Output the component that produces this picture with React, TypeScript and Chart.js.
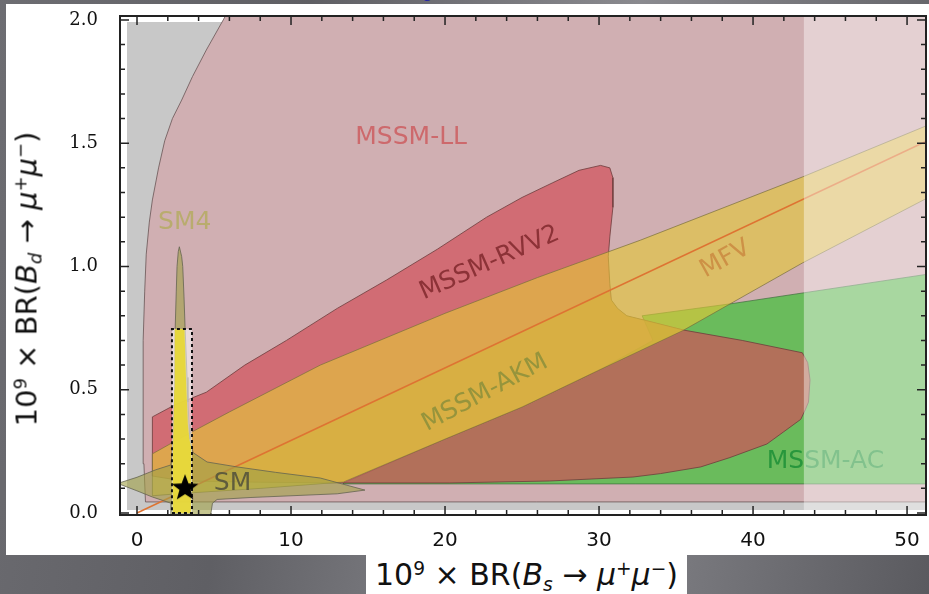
import React, { useEffect, useRef } from "react";
import { Chart, registerables } from "chart.js";

Chart.register(...registerables);

// Axis ranges (BR x 1e9)
const X_MIN = -1.104;
const X_MAX = 51.23;
const Y_MIN = -0.008;
const Y_MAX = 2.016;

const X_TICKS = [0, 10, 20, 30, 40, 50];
const Y_TICKS = [0, 0.5, 1.0, 1.5, 2.0];
const X_MINOR = [2, 4, 6, 8, 12, 14, 16, 18, 22, 24, 26, 28, 32, 34, 36, 38, 42, 44, 46, 48];
const Y_MINOR = [0.1, 0.2, 0.3, 0.4, 0.6, 0.7, 0.8, 0.9, 1.1, 1.2, 1.3, 1.4, 1.6, 1.7, 1.8, 1.9];

// Region outlines as [BR(Bs), BR(Bd)] pairs
const UNCOVERED: number[][] = [
  [-0.65, 0.012], [52, 0.012], [52, 1.992], [-0.65, 1.992],
];

const MSSM_LL: number[][] = [
  [0.55, 0.045], [0.45, 0.2], [0.4, 0.45], [0.4, 0.7], [0.5, 0.9], [0.6, 1.05],
  [0.8, 1.18], [1.0, 1.27], [1.4, 1.4], [1.8, 1.51], [2.3, 1.6], [2.9, 1.675],
  [3.6, 1.77], [4.5, 1.878], [5.6, 2.0], [6.3, 2.08], [52, 2.08], [52, 0.045],
];

const MSSM_AC: number[][] = [
  [13.4, 0.118], [52, 0.118], [52, 0.975], [38.7, 0.85], [32.8, 0.8],
  [33.5, 0.7], [30, 0.58], [25, 0.43], [20, 0.3], [13.4, 0.122],
];

const MSSM_RVV2: number[][] = [
  [1.0, 0.15], [1.0, 0.39], [2.5, 0.44], [4.5, 0.49], [7, 0.6], [9.7, 0.7],
  [13, 0.83], [16.2, 0.945], [19.5, 1.07], [22.7, 1.2], [25, 1.28], [27, 1.34],
  [28.7, 1.39], [30.1, 1.41], [30.7, 1.4], [30.9, 1.36], [30.9, 1.24], [30.7, 1.12],
  [30.6, 1.04], [30.7, 0.93], [30.8, 0.864], [31.2, 0.83], [31.8, 0.8], [33.1, 0.78],
  [35.5, 0.742], [39.3, 0.7], [43.2, 0.65], [43.55, 0.61], [43.7, 0.54], [43.6, 0.45],
  [43.4, 0.42], [43.1, 0.38], [42, 0.33], [40.9, 0.28], [38.5, 0.225], [36.6, 0.187],
  [34, 0.16], [32.2, 0.146], [26.8, 0.13], [20.3, 0.122], [13.4, 0.122], [8, 0.125],
  [3, 0.13],
];

const MSSM_AKM: number[][] = [
  [1.0, 0.24], [3, 0.31], [6, 0.41], [11.9, 0.6], [20, 0.81], [26, 0.955],
  [32.7, 1.107], [43.2, 1.363], [52, 1.59], [52, 1.3], [43.2, 1.014], [35.5, 0.742],
  [30, 0.58], [25, 0.43], [20, 0.3], [13.4, 0.126], [8, 0.1], [3, 0.08], [1.0, 0.07],
];

// lower part of the AKM band, where the two scan samples overlap
const MSSM_AKM_LOWER: number[][] = [
  [3, 0.088], [10, 0.294], [20, 0.588], [30.6, 0.9], [30.8, 0.864], [31.2, 0.83],
  [31.8, 0.8], [33.1, 0.78], [35.5, 0.742], [30, 0.58], [25, 0.43], [20, 0.3],
  [13.4, 0.126], [8, 0.1], [3, 0.08],
];

const MFV_LINE: number[][] = [[0, 0], [52, 1.53]];

const SM4: number[][] = [
  [2.75, 1.08], [2.9, 1.04], [2.97, 1.0], [3.05, 0.88], [3.12, 0.755], [3.25, 0.55],
  [3.31, 0.45], [3.38, 0.36], [3.44, 0.3], [3.64, 0.245], [4.55, 0.207], [6.5, 0.187],
  [9, 0.165], [11.9, 0.142], [13.5, 0.115], [14.8, 0.093], [13, 0.078], [10, 0.07],
  [7.4, 0.063], [5.2, 0.055], [4.9, 0.04], [4.8, 0.0], [4.8, -0.02], [2.2, -0.02],
  [2.2, 0.04], [1.0, 0.065], [0, 0.09], [-1.25, 0.12], [0, 0.145], [1.2, 0.175],
  [2.2, 0.195], [2.3, 0.26], [2.35, 0.32], [2.45, 0.5], [2.48, 0.75], [2.55, 0.9],
  [2.6, 1.0], [2.68, 1.06],
];

const SM4_CORE: number[][] = [
  [2.45, 0.746], [3.08, 0.746], [3.18, 0.55], [3.3, 0.36], [3.4, 0.3], [3.5, 0.27],
  [3.5, 0.0], [2.32, 0.0], [2.32, 0.2], [2.36, 0.32], [2.42, 0.5],
];

const EXP_BOX: number[][] = [[2.27, 0.0], [3.57, 0.0], [3.57, 0.746], [2.27, 0.746]];

const SM_POINT: number[][] = [[3.12, 0.101]];

const BS_BOUND: number[][] = [[43.3, -0.1], [60, -0.1], [60, 2.2], [43.3, 2.2]];

// Region names placed on the plot
const LABEL_TEXT = ["MSSM-LL", "MSSM-RVV2", "MSSM-AKM", "MFV", "MSSM-AC", "SM4", "SM"];
const LABEL_X = [17.8, 22.9, 22.6, 38.2, 44.7, 3.1, 6.2];
const LABEL_Y = [1.525, 1.014, 0.487, 1.03, 0.207, 1.18, 0.118];
const LABEL_ANGLE = [0, -24, -28, -29, 0, 0, 0];
const LABEL_COLOR = [
  "rgb(205,105,108)", "rgb(140,50,55)", "rgb(150,148,60)", "rgb(205,145,70)",
  "rgb(40,150,60)", "rgb(185,172,110)", "rgb(95,92,60)",
];

function toXY(pts: number[][], close: boolean) {
  const out = pts.map(([x, y]) => ({ x, y }));
  if (close) out.push({ x: pts[0][0], y: pts[0][1] });
  return out;
}

function region(label: string, pts: number[][], fillColor: string, border: string, bw = 1) {
  return {
    label,
    data: toXY(pts, true),
    fill: "shape",
    backgroundColor: fillColor,
    borderColor: border,
    borderWidth: bw,
    pointRadius: 0,
    tension: 0,
  };
}

function makeStar(r: number) {
  const c = document.createElement("canvas");
  c.width = 2 * r + 2;
  c.height = 2 * r + 2;
  const g = c.getContext("2d")!;
  g.beginPath();
  for (let i = 0; i < 10; i++) {
    const rr = i % 2 === 0 ? r : r * 0.42;
    const a = -Math.PI / 2 + (i * Math.PI) / 5;
    const px = r + 1 + rr * Math.cos(a);
    const py = r + 1 + rr * Math.sin(a);
    if (i === 0) g.moveTo(px, py);
    else g.lineTo(px, py);
  }
  g.closePath();
  g.fillStyle = "#000";
  g.fill();
  return c;
}

const framePlugin = {
  id: "frame",
  afterDraw(chart: any) {
    const { ctx, chartArea: a, scales } = chart;
    const xs = scales.x;
    const ys = scales.y;
    ctx.save();
    ctx.strokeStyle = "#222";
    ctx.lineWidth = 1.5;
    const tick = (vals: number[], len: number) => {
      for (const v of vals) {
        const px = xs.getPixelForValue(v);
        ctx.beginPath();
        ctx.moveTo(px, a.bottom);
        ctx.lineTo(px, a.bottom - len);
        ctx.moveTo(px, a.top);
        ctx.lineTo(px, a.top + len);
        ctx.stroke();
      }
    };
    const ytick = (vals: number[], len: number) => {
      for (const v of vals) {
        const py = ys.getPixelForValue(v);
        ctx.beginPath();
        ctx.moveTo(a.left, py);
        ctx.lineTo(a.left + len, py);
        ctx.moveTo(a.right, py);
        ctx.lineTo(a.right - len, py);
        ctx.stroke();
      }
    };
    tick(X_TICKS, 9);
    tick(X_MINOR, 5);
    ytick(Y_TICKS, 9);
    ytick(Y_MINOR, 5);
    ctx.lineWidth = 2;
    ctx.strokeRect(a.left, a.top, a.right - a.left, a.bottom - a.top);
    ctx.restore();
  },
};

const labelPlugin = {
  id: "regionLabels",
  afterDatasetDraw(chart: any, args: any) {
    if (chart.data.datasets[args.index].label !== "SM") return;
    const { ctx, scales } = chart;
    ctx.save();
    ctx.beginPath();
    const a = chart.chartArea;
    ctx.rect(a.left, a.top, a.right - a.left, a.bottom - a.top);
    ctx.clip();
    ctx.font = "25px 'DejaVu Sans'";
    ctx.textAlign = "center";
    ctx.textBaseline = "middle";
    LABEL_TEXT.forEach((t, i) => {
      ctx.save();
      ctx.translate(scales.x.getPixelForValue(LABEL_X[i]), scales.y.getPixelForValue(LABEL_Y[i]));
      ctx.rotate((LABEL_ANGLE[i] * Math.PI) / 180);
      ctx.fillStyle = LABEL_COLOR[i];
      ctx.fillText(t, 0, 0);
      ctx.restore();
    });
    ctx.restore();
  },
};

// keep the plot frame fixed: no extra room reserved for overhanging tick labels
function noOverhang(s: any) {
  s.paddingTop = 0;
  s.paddingBottom = 0;
  s.paddingLeft = 0;
  s.paddingRight = 0;
}

export default function App() {
  const ref = useRef<HTMLCanvasElement>(null);

  useEffect(() => {
    if (!ref.current) return;
    const layers: any[] = [
      region("uncovered", UNCOVERED, "#c8c8c8", "rgba(0,0,0,0)", 0),
      region("MSSM-LL", MSSM_LL, "rgb(208,175,178)", "rgba(105,85,85,0.8)"),
      region("MSSM-AC", MSSM_AC, "rgba(80,190,70,0.8)", "rgba(60,110,60,0.7)"),
      region("MSSM-RVV2", MSSM_RVV2, "rgba(210,80,90,0.7)", "rgba(110,60,60,0.8)"),
      region("MSSM-AKM", MSSM_AKM, "rgba(228,200,55,0.62)", "rgba(120,110,60,0.7)"),
      region("MSSM-AKM-lower", MSSM_AKM_LOWER, "rgba(205,195,50,0.35)", "rgba(0,0,0,0)", 0),
      {
        label: "MFV",
        data: toXY(MFV_LINE, false),
        borderColor: "rgb(222,115,50)",
        borderWidth: 1.5,
        pointRadius: 0,
        fill: false,
      },
      region("SM4", SM4, "rgba(160,160,70,0.6)", "rgba(100,100,80,0.8)"),
      region("exp-box-fill", EXP_BOX, "rgba(255,255,255,0.55)", "rgba(0,0,0,0)", 0),
      region("SM4-core", SM4_CORE, "rgba(232,215,30,0.8)", "rgba(0,0,0,0)", 0),
      {
        label: "exp-box",
        data: toXY(EXP_BOX, true),
        borderColor: "#111",
        borderWidth: 2,
        borderDash: [3, 3],
        pointRadius: 0,
        fill: false,
      },
      {
        label: "SM",
        data: toXY(SM_POINT, false),
        showLine: false,
        pointStyle: makeStar(14),
        pointRadius: 14,
        fill: false,
      },
      region("Bs-bound", BS_BOUND, "rgba(255,255,255,0.42)", "rgba(0,0,0,0)", 0),
    ];
    layers.forEach((d, i) => (d.order = layers.length - i));

    const chart = new Chart(ref.current, {
      type: "line",
      data: { datasets: layers },
      options: {
        animation: false,
        responsive: false,
        devicePixelRatio: 1,
        events: [],
        layout: { autoPadding: false, padding: { top: 12, right: 3, left: 0, bottom: 0 } },
        plugins: { legend: { display: false }, tooltip: { enabled: false } },
        scales: {
          x: {
            type: "linear",
            min: X_MIN,
            max: X_MAX,
            grid: { display: false, drawTicks: false },
            border: { display: false },
            afterBuildTicks: (s: any) => {
              s.ticks = X_TICKS.map((v) => ({ value: v }));
            },
            afterFit: (s: any) => {
              s.height = 40;
              noOverhang(s);
            },
            ticks: {
              padding: 14,
              color: "#111",
              maxRotation: 0,
              autoSkip: false,
              font: { family: "'DejaVu Sans'", size: 20 },
              callback: (v: any) => String(v),
            },
          },
          y: {
            type: "linear",
            min: Y_MIN,
            max: Y_MAX,
            grid: { display: false, drawTicks: false },
            border: { display: false },
            afterBuildTicks: (s: any) => {
              s.ticks = Y_TICKS.map((v) => ({ value: v }));
            },
            afterFit: (s: any) => {
              s.width = 114;
              noOverhang(s);
            },
            ticks: {
              padding: 22,
              color: "#111",
              autoSkip: false,
              font: { family: "'DejaVu Serif'", size: 18 },
              callback: (v: any) => Number(v).toFixed(1),
            },
          },
        },
      } as any,
      plugins: [labelPlugin, framePlugin],
    });
    return () => chart.destroy();
  }, []);

  const sup: React.CSSProperties = { fontSize: "0.62em", position: "relative", top: "-0.55em" };
  const sub: React.CSSProperties = { fontSize: "0.62em", position: "relative", top: "0.3em" };

  return (
    <div
      style={{
        position: "fixed",
        left: 0,
        top: 0,
        width: 929,
        height: 594,
        overflow: "hidden",
        background: "linear-gradient(100deg, #6d6d72 0%, #5f5f64 30%, #8a8a8f 62%, #5a5a5f 100%)",
      }}
    >
      <div
        style={{
          position: "absolute",
          left: 424,
          top: -14,
          color: "#1c1ca8",
          font: "italic 16px 'DejaVu Serif'",
        }}
      >
        s
      </div>
      <div style={{ position: "absolute", left: 6, top: 4, width: 923, height: 551, background: "#fff" }}>
        <canvas ref={ref} width={923} height={551} style={{ display: "block" }} />
        <div
          style={{
            position: "absolute",
            left: 21,
            top: 275,
            transform: "translate(-50%,-50%) rotate(-90deg)",
            whiteSpace: "nowrap",
            font: "29px 'DejaVu Sans'",
            lineHeight: 1,
            color: "#111",
          }}
        >
          10<span style={sup}>9</span> × BR(<i>B</i><span style={{ ...sub, fontStyle: "italic" }}>d</span> →{" "}
          <i>μ</i><span style={sup}>+</span><i>μ</i><span style={sup}>−</span>)
        </div>
      </div>
      <div
        style={{
          position: "absolute",
          left: 366,
          top: 555,
          width: 321,
          height: 39,
          background: "#fff",
          textAlign: "center",
          whiteSpace: "nowrap",
          font: "30px 'DejaVu Sans'",
          lineHeight: "39px",
          color: "#111",
        }}
      >
        10<span style={sup}>9</span> × BR(<i>B</i><span style={{ ...sub, fontStyle: "italic" }}>s</span> →{" "}
        <i>μ</i><span style={sup}>+</span><i>μ</i><span style={sup}>−</span>)
      </div>
    </div>
  );
}
